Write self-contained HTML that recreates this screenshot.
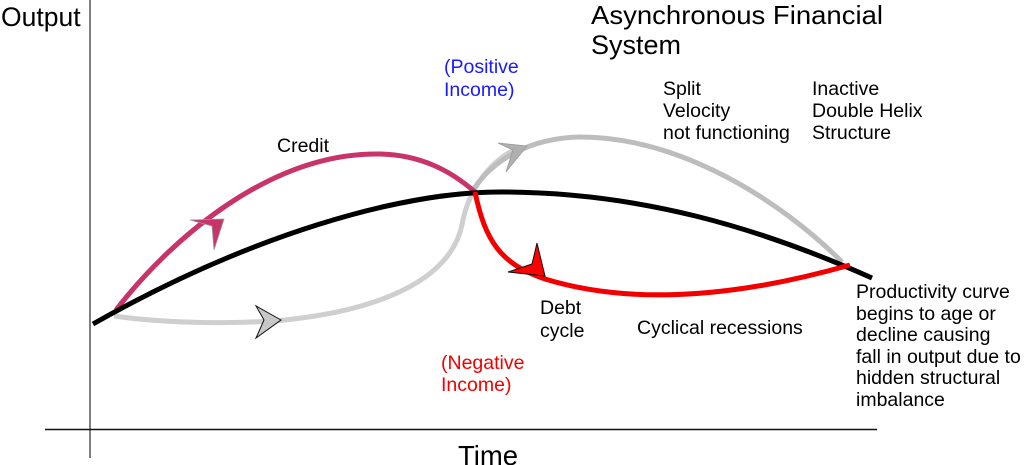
<!DOCTYPE html>
<html><head><meta charset="utf-8"><style>
html,body{margin:0;padding:0;background:#fff;}
svg{display:block;}
text{font-family:"Liberation Sans",Arial,sans-serif;}
</style></head><body>
<svg width="1024" height="465" viewBox="0 0 1024 465" xmlns="http://www.w3.org/2000/svg">
<line x1="90" y1="0" x2="90" y2="458" stroke="#555" stroke-width="1.5"/>
<line x1="45" y1="429.5" x2="877" y2="429.5" stroke="#111" stroke-width="1.5"/>

<path d="M114,316 C170,324 240,324 285,320 C380,310 450,280 462,225 C468,190 490,160 520,147" fill="none" stroke="#cfcfcf" stroke-width="5"/>
<path d="M470,195 C490,160 530,138 580,137 C680,137 780,200 842,262" fill="none" stroke="#bdbdbd" stroke-width="5"/>
<path d="M116,310 C170,240 270,152 380,154 C420,155 450,170 475,192" fill="none" stroke="#c8336a" stroke-width="5"/>
<path d="M93,324 C250,235 400,192 500,192 C640,192 760,228 872,278" fill="none" stroke="#000" stroke-width="5"/>
<path d="M475,192 C485,240 500,264 545,279 C620,302 720,302 850,265" fill="none" stroke="#f20000" stroke-width="5"/>

<polygon points="281,320 256,306 264,320 256,338" fill="#c8c8c8" stroke="#111" stroke-width="1"/>
<polygon points="527,146 498,143 513,150 506,172" fill="#b0b0b0" stroke="#999" stroke-width="0.8"/>
<polygon points="224,219 190,220 212,226 214,250" fill="#c8336a" stroke="#999" stroke-width="0.8"/>
<polygon points="545,276 537,243 532,264 508,272" fill="#ff0000" stroke="#111" stroke-width="1"/>

<text x="1" y="26" font-size="26.5" fill="#000">Output</text>
<text x="458" y="465" font-size="27.5" fill="#000">Time</text>
<text x="591" y="24" font-size="26" fill="#000" textLength="292" lengthAdjust="spacingAndGlyphs">Asynchronous Financial</text>
<text x="591" y="54" font-size="27" fill="#000">System</text>
<g font-size="19.5" fill="#1a1aff"><text x="444" y="73">(Positive</text><text x="444" y="96">Income)</text></g>
<g font-size="19.5" fill="#000">
<text x="277" y="152">Credit</text>
<text x="663" y="95">Split</text><text x="663" y="117">Velocity</text><text x="663" y="139">not functioning</text>
<text x="812" y="95">Inactive</text><text x="812" y="117">Double Helix</text><text x="812" y="139">Structure</text>
<text x="540" y="314">Debt</text><text x="540" y="337">cycle</text>
<text x="637" y="334">Cyclical recessions</text>
<text x="856" y="298">Productivity curve</text>
<text x="856" y="320">begins to age or</text>
<text x="856" y="341">decline causing</text>
<text x="856" y="363">fall in output due to</text>
<text x="856" y="384">hidden structural</text>
<text x="856" y="406"> imbalance</text>
</g>
<g font-size="19.5" fill="#f20000"><text x="441" y="369">(Negative</text><text x="441" y="391">Income)</text></g>
</svg>
</body></html>
